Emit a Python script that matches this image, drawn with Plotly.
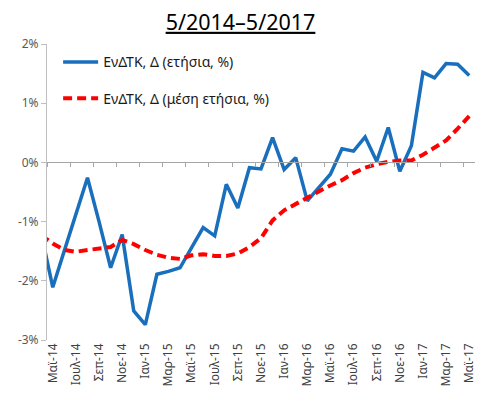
import plotly.graph_objects as go

# Months (Apr-14 is only partially visible at the left edge; visible range May-14..May-17)
months = ["Απρ-14", "Μαϊ-14", "Ιουν-14", "Ιουλ-14", "Αυγ-14", "Σεπ-14", "Οκτ-14", "Νοε-14", "Δεκ-14",
          "Ιαν-15", "Φεβ-15", "Μαρ-15", "Απρ-15", "Μαϊ-15", "Ιουν-15", "Ιουλ-15", "Αυγ-15",
          "Σεπ-15", "Οκτ-15", "Νοε-15", "Δεκ-15", "Ιαν-16", "Φεβ-16", "Μαρ-16", "Απρ-16",
          "Μαϊ-16", "Ιουν-16", "Ιουλ-16", "Αυγ-16", "Σεπ-16", "Οκτ-16", "Νοε-16", "Δεκ-16",
          "Ιαν-17", "Φεβ-17", "Μαρ-17", "Απρ-17", "Μαϊ-17"]

annual = [-1.20, -2.11, -1.49, -0.87, -0.26, -1.00, -1.78, -1.22, -2.51, -2.74,
          -1.89, -1.84, -1.78, -1.44, -1.10, -1.24, -0.37, -0.77, -0.09, -0.11,
          0.42, -0.12, 0.08, -0.65, -0.42, -0.20, 0.23, 0.19, 0.43, 0.02,
          0.59, -0.15, 0.28, 1.52, 1.43, 1.67, 1.66, 1.47]

avg_annual = [-1.23, -1.37, -1.48, -1.51, -1.48, -1.46, -1.43, -1.31, -1.38, -1.48,
              -1.56, -1.61, -1.63, -1.57, -1.55, -1.58, -1.58, -1.54, -1.43, -1.28,
              -0.98, -0.81, -0.70, -0.60, -0.49, -0.39, -0.30, -0.18, -0.09, -0.03,
              0.01, 0.03, 0.03, 0.13, 0.26, 0.37, 0.57, 0.78]

tick_labels = ["Μαϊ-14", "Ιουλ-14", "Σεπ-14", "Νοε-14", "Ιαν-15", "Μαρ-15", "Μαϊ-15",
               "Ιουλ-15", "Σεπ-15", "Νοε-15", "Ιαν-16", "Μαρ-16", "Μαϊ-16", "Ιουλ-16",
               "Σεπ-16", "Νοε-16", "Ιαν-17", "Μαρ-17", "Μαϊ-17"]

y_ticks = [2, 1, 0, -1, -2, -3]
y_labels = ["2%", "1%", "0%", "-1%", "-2%", "-3%"]

name_annual = "ΕνΔΤΚ, Δ (ετήσια, %)"
name_avg = "ΕνΔΤΚ, Δ (μέση ετήσια, %)"

x = [i - 1 for i in range(len(months))]
label_pos = [months.index(m) - 1 for m in tick_labels]
boundary_ticks = [p - 0.5 for p in label_pos]

FONT = "Noto Sans"

fig = go.Figure()
fig.add_trace(go.Scatter(x=x, y=annual, mode="lines", name=name_annual,
                         line=dict(color="#1a6fbd", width=3.5), legendgroup="a"))
fig.add_trace(go.Scatter(x=x, y=avg_annual, mode="lines", name=name_avg,
                         line=dict(color="#ff0000", width=4, dash="9px,5px"), legendgroup="b"))
# zero axis with tick marks (category boundaries)
fig.add_trace(go.Scatter(x=[-0.5, 36.5], y=[0, 0], xaxis="x2", mode="lines",
                         line=dict(color="rgba(0,0,0,0)", width=0), showlegend=False,
                         hoverinfo="skip"))

fig.update_layout(
    width=481, height=405,
    margin=dict(l=47, r=6, t=44, b=65),
    paper_bgcolor="white", plot_bgcolor="white",
    font=dict(family=FONT, color="#404040", size=12),
    title=dict(text="<u>5/2014–5/2017</u>", x=0.5, xanchor="center", y=0.945, yanchor="middle",
               font=dict(family=FONT, size=21.5, color="#000000")),
    showlegend=True,
    legend=dict(x=0.026, y=0.992, xanchor="left", yanchor="top", bgcolor="rgba(0,0,0,0)",
                font=dict(family=FONT, size=14, color="#1a1a1a"),
                itemwidth=35,
                traceorder="grouped", tracegroupgap=15),
    xaxis=dict(range=[-0.5, 36.5], tickmode="array", tickvals=label_pos, ticktext=tick_labels,
               tickangle=-90, showline=False, showgrid=False, zeroline=False, ticks="",
               tickfont=dict(size=12, color="#404040"), automargin=False, fixedrange=True),
    xaxis2=dict(range=[-0.5, 36.5], overlaying="x", anchor="free", position=0.6,
                tickmode="array", tickvals=boundary_ticks, showticklabels=False,
                ticks="outside", ticklen=4, tickcolor="#a6a6a6", showline=True,
                linecolor="#a6a6a6", linewidth=1, showgrid=False, zeroline=False,
                automargin=False),
    yaxis=dict(range=[-3, 2], tickmode="array", tickvals=y_ticks, ticktext=y_labels,
               showgrid=False, zeroline=False, showline=True, linecolor="#bfbfbf", linewidth=1,
               ticks="outside", ticklen=5, tickcolor="#bfbfbf", automargin=False,
               tickfont=dict(size=12, color="#595959")),
)

fig.write_html("out.html", config={"displayModeBar": False},
               post_script="document.body.style.margin='0';")
